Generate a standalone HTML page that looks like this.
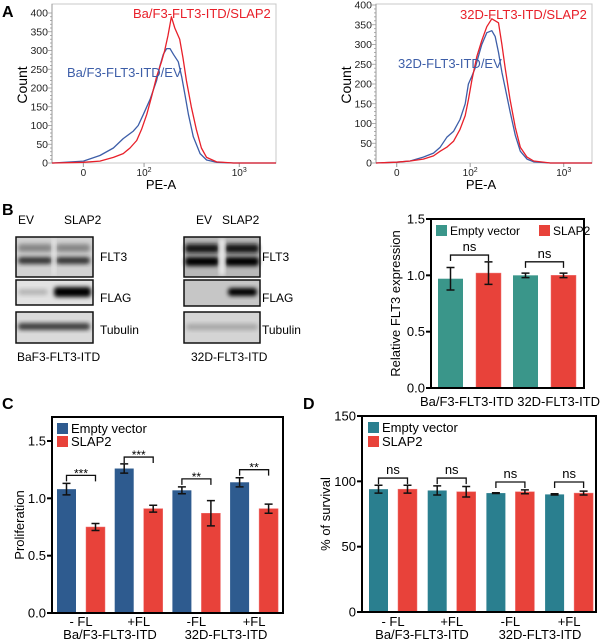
<!DOCTYPE html>
<html><head><meta charset="utf-8"><style>
html,body{margin:0;padding:0;background:#fff;}
svg{display:block;font-family:"Liberation Sans",Arial,sans-serif;}
</style></head><body>
<svg id="fig" width="600" height="640" viewBox="0 0 600 640" xmlns="http://www.w3.org/2000/svg">
<defs>
<filter id="blur2" x="-20%" y="-50%" width="140%" height="200%"><feGaussianBlur stdDeviation="2"/></filter>
<filter id="blur1" x="-20%" y="-50%" width="140%" height="200%"><feGaussianBlur stdDeviation="1.2"/></filter>
</defs>
</svg>
<script>
// ---------- DATA ----------
const histTickLabelsY = [0,50,100,150,200,250,300,350,400];
const histLeftTickChannels = [140, 411, 836];
const histRightTickChannels = [96, 436, 869];
const histTickLabelsX = ['0','10²','10³'];
const histLeftEVx = [0,6,140,214,274,318,363,385,408,438,467,482,497,512,527,542,564,579,594,609,631,661,690,735,810,1000];
const histLeftEVy = [0,0,5,20,40,65,85,100,130,170,220,260,290,305,305,290,270,230,180,130,70,25,8,2,0,0];
const histLeftSLx = [0,6,140,214,274,318,348,378,400,423,446,467,489,503,518,533,548,570,585,600,622,644,667,690,735,810,1000];
const histLeftSLy = [0,0,2,5,15,25,40,60,90,130,180,230,270,300,340,390,360,330,280,220,150,90,40,15,3,0,0];
const histRightEVx = [0,96,158,219,266,297,328,359,389,413,428,444,459,474,490,513,536,552,567,583,598,621,645,668,699,730,807,1000];
const histRightEVy = [0,2,5,15,25,40,65,80,110,150,200,220,240,270,300,330,335,320,280,230,190,130,70,30,10,3,0,0];
const histRightSLx = [0,96,158,219,266,297,328,359,389,413,428,444,467,490,513,536,552,567,583,598,621,645,668,699,730,807,1000];
const histRightSLy = [0,2,5,10,18,30,40,55,85,120,160,210,270,310,345,365,360,355,300,240,160,90,40,15,5,0,0];

const bCategories = ['Ba/F3-FLT3-ITD','32D-FLT3-ITD'];
const bEV = [0.97, 1.00];
const bEVerr = [0.10, 0.02];
const bSL = [1.02, 1.00];
const bSLerr = [0.10, 0.02];
const bTicks = [0.0, 0.5, 1.0, 1.5];
const bTickLabels = ['0.0','0.5','1.0','1.5'];
const bBrackets = [1.18, 1.12];
const bSig = ['ns','ns'];

const cCategories = ['- FL','+FL','-FL','+FL'];
const cEV = [1.08, 1.26, 1.07, 1.14];
const cEVerr = [0.05, 0.04, 0.03, 0.04];
const cSL = [0.75, 0.91, 0.87, 0.91];
const cSLerr = [0.03, 0.03, 0.11, 0.04];
const cTicks = [0.0, 0.5, 1.0, 1.5];
const cTickLabels = ['0.0','0.5','1.0','1.5'];
const cBrackets = [1.20, 1.36, 1.17, 1.25];
const cSig = ['***','***','**','**'];

const dCategories = ['- FL','+FL','-FL','+FL'];
const dEV = [94, 93, 91, 90];
const dEVerr = [3, 3.5, 0.3, 0.5];
const dSL = [94, 92, 92, 91];
const dSLerr = [3, 4, 1.5, 1.5];
const dTicks = [0, 50, 100, 150];
const dTickLabels = ['0','50','100','150'];
const dBrackets = [102.5, 102.5, 99.5, 99.5];
const dSig = ['ns','ns','ns','ns'];

// ---------- HELPERS ----------
const svg = document.getElementById('fig');
const NS = 'http://www.w3.org/2000/svg';
function mk(tag, attrs, parent){
  const el = document.createElementNS(NS, tag);
  for (const k in attrs) el.setAttribute(k, attrs[k]);
  (parent || svg).appendChild(el);
  return el;
}
function tag(el, name){
  
  
  return el;
}
function txt(x, y, s, attrs, name){
  const t = mk('text', Object.assign({x:x, y:y}, attrs||{}));
  t.textContent = s;
  tag(t, name);
  return t;
}

txt(2, 17, 'A', {'font-size':16,'font-weight':'bold'}, 'panel-label-a');
txt(2, 215, 'B', {'font-size':16,'font-weight':'bold'}, 'panel-label-b');
txt(2, 409, 'C', {'font-size':16,'font-weight':'bold'}, 'panel-label-c');
txt(303, 409, 'D', {'font-size':16,'font-weight':'bold'}, 'panel-label-d');

// ---------- HISTOGRAMS ----------
function histogram(cfg){
  const g = tag(mk('g', {}), cfg.name);
  const x0 = cfg.x0, x1 = cfg.x1, yT = cfg.yTop, yB = cfg.yBot;
  const xs = c => x0 + c/1000*(x1-x0);
  const ys = v => yB - v/400*(yB-cfg.y400);
  tag(mk('rect', {x:x0, y:yT, width:x1-x0, height:yB-yT, fill:'none', stroke:'#c8c8c8', 'stroke-width':1}, g), 'plot-frame');
  tag(mk('line', {x1:x0, y1:yT, x2:x0, y2:yB, stroke:'#999', 'stroke-width':1}, g), 'y-axis');
  for (let v=0; v<=400; v+=10){
    const major = v%50===0;
    tag(mk('line', {x1:x0-(major?4:2), x2:x0, y1:ys(v), y2:ys(v), stroke:'#999', 'stroke-width':0.8}, g), 'y-tick');
  }
  histTickLabelsY.forEach(v => {
    txt(x0-4, ys(v)+3.5, String(v), {'font-size':10.5,'text-anchor':'end',fill:'#222'}, 'y-tick-label');
  });
  cfg.ticks.forEach((c,i) => {
    tag(mk('line', {x1:xs(c), x2:xs(c), y1:yB, y2:yB+4, stroke:'#999'}, g), 'x-tick');
    const t = txt(xs(c), yB+13, '', {'font-size':10,'text-anchor':'middle',fill:'#222'}, 'x-tick-label');
    if (i===0) t.textContent = '0';
    else { t.textContent = '10'; const s = mk('tspan', {'font-size':7, dy:-4}, t); s.textContent = i===1?'2':'3'; }
  });
  txt((x0+x1)/2 - 3, yB+26, 'PE-A', {'font-size':13,'text-anchor':'middle'}, 'x-axis-title');
  txt(0, 0, 'Count', {'font-size':14,'text-anchor':'middle', transform:`translate(${cfg.countX},85) rotate(-90)`}, 'y-axis-title');
  const line = (X, Y, col, name) => {
    const d = X.map((c,i) => (i?'L':'M') + xs(c).toFixed(1) + ',' + ys(Y[i]).toFixed(1)).join('');
    tag(mk('path', {d:d, fill:'none', stroke:col, 'stroke-width':1.3, 'stroke-linejoin':'round'}, g), name);
  };
  line(cfg.evx, cfg.evy, '#3d5ea8', 'ev-histogram-line');
  line(cfg.slx, cfg.sly, '#e8202a', 'slap2-histogram-line');
  txt(cfg.slLab[0], cfg.slLab[1], cfg.slText, {'font-size':13, fill:'#e8202a'}, 'slap2-label');
  txt(cfg.evLab[0], cfg.evLab[1], cfg.evText, {'font-size':13, fill:'#3d5ea8'}, 'ev-label');
}
histogram({name:'histogram-bvf3', x0:52, x1:276, yTop:4, yBot:163, y400:13, ticks:histLeftTickChannels,
  evx:histLeftEVx, evy:histLeftEVy, slx:histLeftSLx, sly:histLeftSLy, countX:27,
  slLab:[133,18], slText:'Ba/F3-FLT3-ITD/SLAP2', evLab:[67,77], evText:'Ba/F3-FLT3-ITD/EV'});
histogram({name:'histogram-32d', x0:376, x1:592, yTop:4, yBot:163, y400:5, ticks:histRightTickChannels,
  evx:histRightEVx, evy:histRightEVy, slx:histRightSLx, sly:histRightSLy, countX:351,
  slLab:[460,19], slText:'32D-FLT3-ITD/SLAP2', evLab:[398,68], evText:'32D-FLT3-ITD/EV'});

// ---------- WESTERN BLOTS ----------
function blot(x, y, w, h, bg, bands, name){
  const g = tag(mk('g', {}), name);
  tag(mk('rect', {x:x, y:y, width:w, height:h, fill:bg}, g), 'blot-background');
  bands.forEach(b => {
    tag(mk('rect', {x:b[0], y:b[1], width:b[2], height:b[3], rx:3, fill:b[4], opacity:b[5], filter:'url(#blur2)'}, g), 'blot-band');
  });
  tag(mk('rect', {x:x, y:y, width:w, height:h, fill:'none', stroke:'#111', 'stroke-width':1.5}, g), 'blot-frame');
}
txt(18, 224, 'EV', {'font-size':12}, 'lane-label-ev');
txt(64, 224, 'SLAP2', {'font-size':12}, 'lane-label-slap2');
blot(16, 237, 77, 40, '#d2d2d2', [[18,244,34,8,'#555',0.6],[56,244,34,8,'#555',0.6],[18,257,34,7,'#222',0.9],[56,257,34,7,'#222',0.9],[52,238,4,38,'#eee',0.7]], 'blot-flt3-baf3');
blot(16, 280, 77, 25, '#e2e2e2', [[18,289,30,6,'#888',0.5],[54,287,37,10,'#000',1]], 'blot-flag-baf3');
blot(16, 312, 77, 31, '#dadada', [[18,323,72,7,'#222',0.85]], 'blot-tubulin-baf3');
txt(100, 261, 'FLT3', {'font-size':12}, 'blot-label-flt3');
txt(100, 302, 'FLAG', {'font-size':12}, 'blot-label-flag');
txt(100, 334, 'Tubulin', {'font-size':12}, 'blot-label-tubulin');
txt(17, 361, 'BaF3-FLT3-ITD', {'font-size':12}, 'blot-cell-line-baf3');
txt(196, 224, 'EV', {'font-size':12}, 'lane-label-ev');
txt(222, 224, 'SLAP2', {'font-size':12}, 'lane-label-slap2');
blot(184, 237, 76, 40, '#b8b8b8', [[185,244,34,9,'#111',0.95],[225,244,34,9,'#111',0.95],[185,257,34,9,'#000',1],[225,257,34,9,'#000',1],[219,238,6,38,'#f0f0f0',0.9]], 'blot-flt3-32d');
blot(184, 280, 76, 26, '#c6c6c6', [[228,288,29,8,'#000',1]], 'blot-flag-32d');
blot(184, 312, 76, 31, '#d4d4d4', [[186,324,72,6,'#888',0.6]], 'blot-tubulin-32d');
txt(262, 261, 'FLT3', {'font-size':12}, 'blot-label-flt3');
txt(262, 302, 'FLAG', {'font-size':12}, 'blot-label-flag');
txt(262, 334, 'Tubulin', {'font-size':12}, 'blot-label-tubulin');
txt(191, 361, '32D-FLT3-ITD', {'font-size':12}, 'blot-cell-line-32d');

// ---------- BAR CHARTS ----------
function barChart(c){
  const g = tag(mk('g', {}), c.name);
  const ys = v => c.yB - (v - 0)/(c.yMaxVal)*(c.yB - c.yMaxPx);
  c.ev.forEach((v,i) => {
    const bx = c.bx0 + i*c.step;
    const rx = bx + c.pair;
    tag(mk('rect', {x:bx, y:ys(v), width:c.bw, height:c.yB-ys(v), fill:c.colEV}, g), 'bar-empty-vector');
    tag(mk('rect', {x:rx, y:ys(c.sl[i]), width:c.bw, height:c.yB-ys(c.sl[i]), fill:c.colSL, stroke:'#f07070','stroke-width':0.5}, g), 'bar-slap2');
    [[bx, v, c.everr[i]],[rx, c.sl[i], c.slerr[i]]].forEach(e => {
      const cx = e[0] + c.bw/2, t = ys(e[1]+e[2]), b = ys(e[1]-e[2]);
      tag(mk('path', {d:`M${cx-4},${t}H${cx+4}M${cx},${t}V${b}M${cx-4},${b}H${cx+4}`, stroke:'#111', 'stroke-width':1.5, fill:'none'}, g), 'error-bar');
    });
    const by = ys(c.brackets[i]);
    const l = bx + c.bw/2, r = rx + c.bw/2;
    tag(mk('path', {d:`M${l},${by+6}V${by}H${r}V${by+6}`, stroke:'#111','stroke-width':1.3, fill:'none'}, g), 'significance-bracket');
    txt((l+r)/2, by - (c.sig[i]==='ns'?4:-2), c.sig[i], {'font-size':c.sig[i]==='ns'?13:12,'text-anchor':'middle'}, 'significance-label');
  });
  tag(mk('rect', {x:c.x0, y:c.yTop, width:c.x1-c.x0, height:c.yB-c.yTop, fill:'none', stroke:'#000', 'stroke-width':2}, g), 'plot-frame');
  c.ticks.forEach((v,i) => {
    tag(mk('line', {x1:c.x0-5, x2:c.x0, y1:ys(v), y2:ys(v), stroke:'#000','stroke-width':2}, g), 'y-tick');
    txt(c.x0-6, ys(v)+4.5, c.tickLabels[i], {'font-size':13,'text-anchor':'end'}, 'y-tick-label');
  });
  txt(0, 0, c.yTitle, {'font-size':13,'text-anchor':'middle', transform:`translate(${c.yTitleX},${(c.yTop+c.yB)/2+c.yTitleDy}) rotate(-90)`}, 'y-axis-title');
  const L = c.legend;
  tag(mk('rect', {x:L[0], y:L[1], width:11, height:11, fill:c.colEV}, g), 'legend-swatch-empty-vector');
  txt(L[0]+14, L[1]+10, 'Empty vector', {'font-size':c.legFont}, 'legend-entry-empty-vector');
  tag(mk('rect', {x:L[2], y:L[3], width:11, height:11, fill:c.colSL}, g), 'legend-swatch-slap2');
  txt(L[2]+14, L[3]+10, 'SLAP2', {'font-size':c.legFont}, 'legend-entry-slap2');
}
barChart({name:'chart-b-flt3-expression', x0:431, x1:584, yTop:219, yB:388, yMaxPx:219, yMaxVal:1.5,
  bx0:438, step:75, pair:38, bw:25, ev:bEV, everr:bEVerr, sl:bSL, slerr:bSLerr, brackets:bBrackets, sig:bSig,
  ticks:bTicks, tickLabels:bTickLabels, colEV:'#3a968a', colSL:'#e8423a', legFont:12,
  yTitle:'Relative FLT3 expression', yTitleX:400, yTitleDy:0, legend:[436,225,539,225]});
txt(510, 406, 'Ba/F3-FLT3-ITD 32D-FLT3-ITD', {'font-size':13,'text-anchor':'middle'}, 'x-axis-categories-b');

barChart({name:'chart-c-proliferation', x0:52, x1:283, yTop:417, yB:613, yMaxPx:441, yMaxVal:1.5,
  bx0:57, step:57.7, pair:29, bw:19, ev:cEV, everr:cEVerr, sl:cSL, slerr:cSLerr, brackets:cBrackets, sig:cSig,
  ticks:cTicks, tickLabels:cTickLabels, colEV:'#2e5b8f', colSL:'#e8423a', legFont:13,
  yTitle:'Proliferation', yTitleX:24, yTitleDy:10, legend:[57,423,57,436]});
cCategories.forEach((s,i) => txt(57 + i*57.7 + 24, 626, s, {'font-size':13,'text-anchor':'middle'}, 'x-tick-label'));
txt(110, 639, 'Ba/F3-FLT3-ITD', {'font-size':13,'text-anchor':'middle'}, 'x-group-label');
txt(226, 639, '32D-FLT3-ITD', {'font-size':13,'text-anchor':'middle'}, 'x-group-label');

barChart({name:'chart-d-survival', x0:362, x1:596, yTop:416, yB:612, yMaxPx:416, yMaxVal:150,
  bx0:369, step:58.7, pair:29, bw:19, ev:dEV, everr:dEVerr, sl:dSL, slerr:dSLerr, brackets:dBrackets, sig:dSig,
  ticks:dTicks, tickLabels:dTickLabels, colEV:'#2a7f8f', colSL:'#e8423a', legFont:13,
  yTitle:'% of survival', yTitleX:330, yTitleDy:0, legend:[368,422,368,436]});
dCategories.forEach((s,i) => txt(369 + i*58.7 + 24, 626, s, {'font-size':13,'text-anchor':'middle'}, 'x-tick-label'));
txt(422, 639, 'Ba/F3-FLT3-ITD', {'font-size':13,'text-anchor':'middle'}, 'x-group-label');
txt(540, 639, '32D-FLT3-ITD', {'font-size':13,'text-anchor':'middle'}, 'x-group-label');
</script>
</body></html>
